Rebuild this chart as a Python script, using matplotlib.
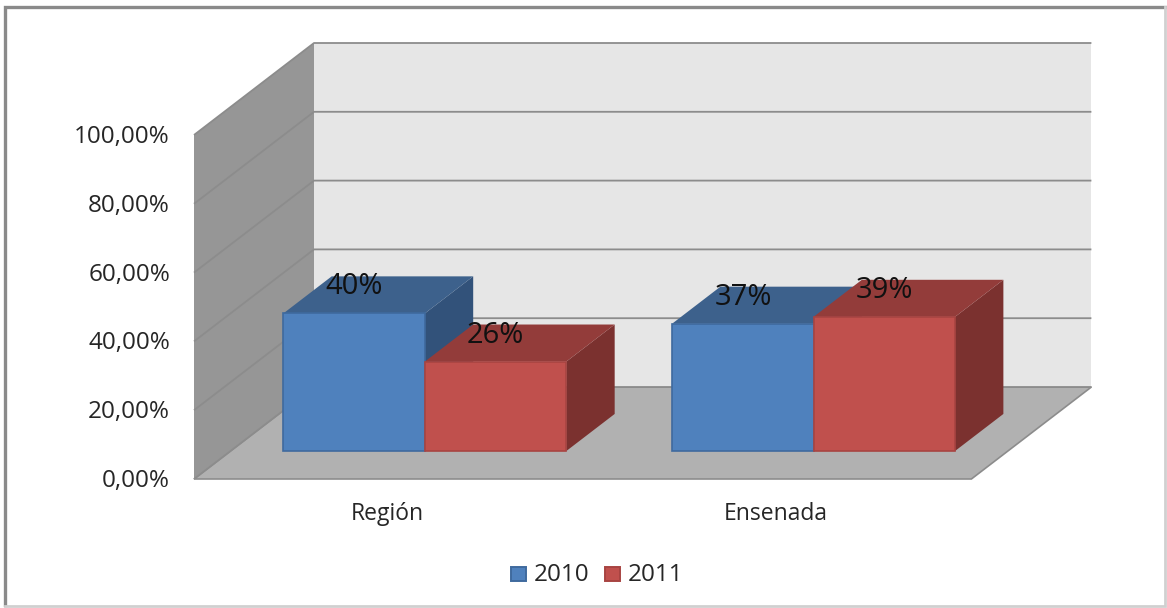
import matplotlib
matplotlib.use("Agg")
import matplotlib.pyplot as plt
from matplotlib.patches import Polygon, Rectangle

plt.rcParams['font.family'] = ['Open Sans', 'DejaVu Sans']

categories = ["Región", "Ensenada"]
series_names = ["2010", "2011"]
values_2010 = [40, 37]
values_2011 = [26, 39]
tick_values = [0, 20, 40, 60, 80, 100]
tick_labels = ["0,00%", "20,00%", "40,00%", "60,00%", "80,00%", "100,00%"]

BLUE = ("#4f81bd", "#3d618c", "#32527a", "#3f6a9e")
RED = ("#c0504d", "#933c3a", "#7b312f", "#a84442")
GRID = "#8c8c8c"

X0, Y0, CAT_W, V_PX, DX, DY = 194, 479, 388.7, 3.44, 120, 92


def proj(u, v, d):
    return (X0 + u * CAT_W + d * DX, Y0 - v * V_PX - d * DY)


fig = plt.figure(figsize=(11.67, 6.08), dpi=100)
ax = fig.add_axes([0, 0, 1, 1])
ax.set_xlim(0, 1167)
ax.set_ylim(608, 0)
ax.axis("off")

# Chart frame
ax.add_patch(Rectangle((5, 7), 1160, 598, fc="white", ec="none", zorder=0))
ax.plot([5, 5, 1165], [605, 7, 7], color="#8a8a8a", lw=2.4, zorder=1, solid_joinstyle="miter")
ax.plot([5, 1165, 1165], [606, 606, 7], color="#d0d0d0", lw=2.0, zorder=1, solid_joinstyle="miter")

n = len(categories)
# Floor, side wall, back wall
ax.add_patch(Polygon([proj(0, 0, 0), proj(n, 0, 0), proj(n, 0, 1), proj(0, 0, 1)],
                     fc="#b1b1b1", ec=GRID, lw=1.2, zorder=2))
ax.add_patch(Polygon([proj(0, 0, 0), proj(0, 0, 1), proj(0, 100, 1), proj(0, 100, 0)],
                     fc="#969696", ec="none", zorder=2))
ax.add_patch(Polygon([proj(0, 0, 1), proj(n, 0, 1), proj(n, 100, 1), proj(0, 100, 1)],
                     fc="#e6e6e6", ec="none", zorder=2))
for t in tick_values:
    pts = [proj(0, t, 0), proj(0, t, 1), proj(n, t, 1)]
    ax.plot([p[0] for p in pts], [p[1] for p in pts], color=GRID, lw=1.3, zorder=3,
            solid_capstyle="butt")

for t, lab in zip(tick_values, tick_labels):
    x, y = proj(0, t, 0)
    ax.text(x - 24, y + 2, lab, ha="right", va="center", fontsize=17.5, color="#262626", zorder=6)

BAR_W = 0.364
D0, D1 = 0.304, 0.707


def bar(u0, v, colors, z):
    u1 = u0 + BAR_W
    front = [proj(u0, 0, D0), proj(u1, 0, D0), proj(u1, v, D0), proj(u0, v, D0)]
    top = [proj(u0, v, D0), proj(u1, v, D0), proj(u1, v, D1), proj(u0, v, D1)]
    side = [proj(u1, 0, D0), proj(u1, 0, D1), proj(u1, v, D1), proj(u1, v, D0)]
    ax.add_patch(Polygon(side, fc=colors[2], ec="none", zorder=z))
    ax.add_patch(Polygon(top, fc=colors[1], ec="none", zorder=z))
    ax.add_patch(Polygon(front, fc=colors[0], ec=colors[3], lw=1.2, zorder=z + 0.1))


for i in range(n):
    start = i + 0.5 - BAR_W
    bar(start, values_2010[i], BLUE, 4)
    bar(start + BAR_W, values_2011[i], RED, 4.5)

for i in range(n):
    start = i + 0.5 - BAR_W
    for vals, sh in ((values_2010, 0), (values_2011, BAR_W)):
        u = start + sh + 0.5 * BAR_W
        x, y = proj(u, vals[i], 0.5 * (D0 + D1))
        ax.text(x - 24, y - 8, f"{vals[i]}%", ha="center", va="center", fontsize=21, color="#111111", zorder=7)
    x, y = proj(i + 0.5, 0, 0)
    ax.text(x - 1, 514, categories[i], ha="center", va="center", fontsize=16.5, color="#262626", zorder=6)

# Legend
for xs, xt, name, cols in ((511, 534, series_names[0], BLUE), (605, 628, series_names[1], RED)):
    ax.add_patch(Rectangle((xs, 567), 15, 14, fc=cols[0], ec=cols[3], lw=1.4, zorder=6))
    ax.text(xt, 575, name, ha="left", va="center", fontsize=17.5, color="#262626", zorder=6)

fig.savefig("out.png", dpi=100)
